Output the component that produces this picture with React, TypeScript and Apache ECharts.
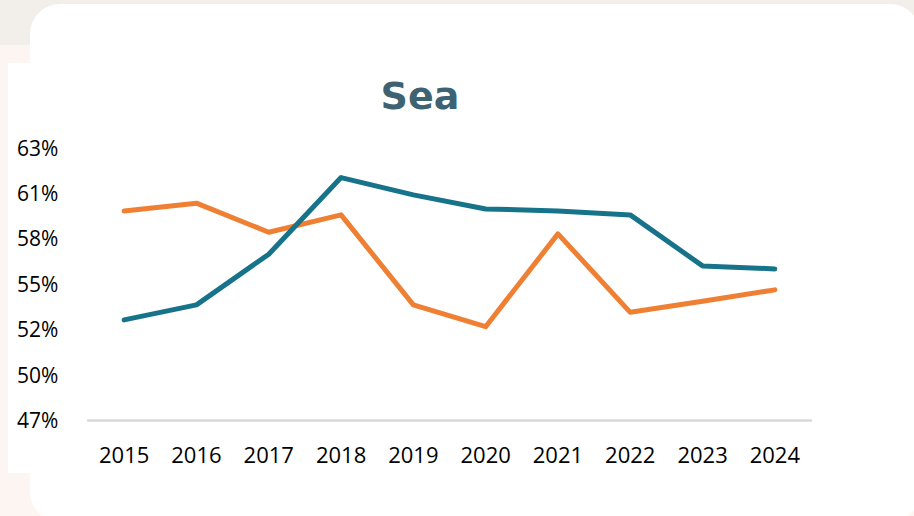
import React, { useEffect, useRef } from "react";
import * as echarts from "echarts";

const years = ["2015", "2016", "2017", "2018", "2019", "2020", "2021", "2022", "2023", "2024"];
const blueSeries = [52.81, 53.72, 56.79, 61.43, 60.38, 59.53, 59.41, 59.17, 56.08, 55.9];
const orangeSeries = [59.41, 59.88, 58.12, 59.17, 53.72, 52.4, 58.02, 53.27, 53.94, 54.63];
const yMin = 46.75;
const yMax = 63.25;
const yStep = 2.75;

export default function App() {
  const ref = useRef<HTMLDivElement>(null);
  useEffect(() => {
    if (!ref.current) return;
    const chart = echarts.init(ref.current, null, { renderer: "svg" });
    chart.setOption({
      animation: false,
      backgroundColor: "#fdf5f2",
      graphic: [
        { type: "rect", z: -10, shape: { x: 0, y: 0, width: 914, height: 45 }, style: { fill: "#f2efeb" } },
        { type: "rect", z: -9, shape: { x: 8, y: 63, width: 200, height: 410 }, style: { fill: "#ffffff" } },
        { type: "rect", z: -8, shape: { x: 30, y: 4, width: 890, height: 518, r: 30 }, style: { fill: "#ffffff" } },
      ],
      title: {
        text: "Sea",
        left: 415,
        top: 91,
        textAlign: "center",
        textVerticalAlign: "middle",
        textStyle: { fontFamily: "DejaVu Sans", fontWeight: "bold", fontSize: 38, color: "#3d6373" },
      },
      grid: { left: 88, right: 103, top: 147.5, bottom: 96, containLabel: false },
      xAxis: {
        type: "category",
        data: years,
        boundaryGap: true,
        axisLine: { show: true, lineStyle: { color: "#d9d9d9", width: 2.5 } },
        axisTick: { show: false },
        axisLabel: { fontFamily: "Open Sans", fontSize: 22, color: "#000000", margin: 23 },
        splitLine: { show: false },
      },
      yAxis: {
        type: "value",
        min: yMin,
        max: yMax,
        interval: yStep,
        axisLine: { show: false },
        axisTick: { show: false },
        splitLine: { show: false },
        axisLabel: {
          fontFamily: "Open Sans",
          fontSize: 21,
          color: "#000000",
          align: "left",
          margin: 71,
          formatter: (v: number) => Math.round(v) + "%",
        },
      },
      series: [
        {
          type: "line",
          data: blueSeries,
          symbol: "none",
          lineStyle: { color: "#17738a", width: 5, cap: "round", join: "round" },
          z: 3,
        },
        {
          type: "line",
          data: orangeSeries,
          symbol: "none",
          lineStyle: { color: "#ef8033", width: 5, cap: "round", join: "round" },
          z: 2,
        },
      ],
    });
    return () => chart.dispose();
  }, []);
  return (
    <div
      ref={ref}
      style={{ position: "fixed", left: 0, top: 0, width: 914, height: 516 }}
    />
  );
}
